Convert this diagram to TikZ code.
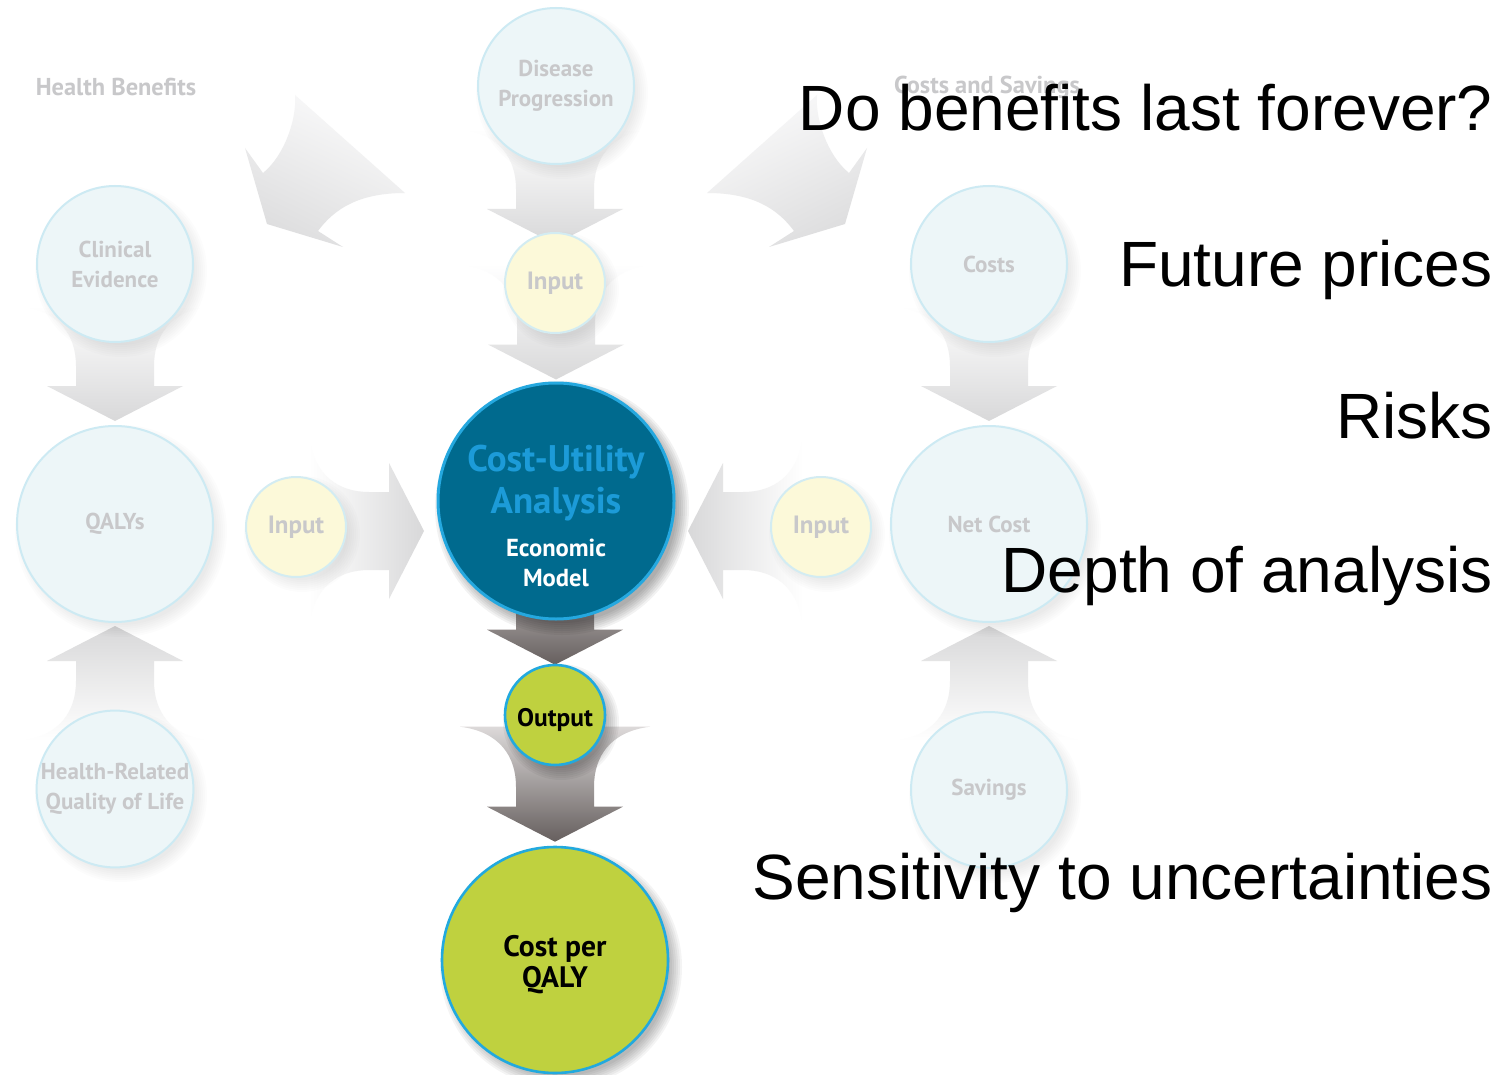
\documentclass[tikz,border=0pt]{standalone}
\usepackage{fontspec}
\newfontfamily\labfont{PT Sans}
\newfontfamily\arialfont{Liberation Sans}
\usetikzlibrary{calc,shadings}
\definecolor{fadefill}{HTML}{EDF6F8}
\definecolor{fadeline}{HTML}{CDEAF3}
\definecolor{fadetext}{HTML}{C8C8CA}
\definecolor{infill}{HTML}{FCF9D9}
\definecolor{inline}{HTML}{D3ECF2}
\definecolor{cuafill}{HTML}{006A8E}
\definecolor{cualine}{HTML}{25A8DF}
\definecolor{cuatitle}{HTML}{1C9BD8}
\definecolor{greenfill}{HTML}{BFD13F}
\definecolor{greenline}{HTML}{22A9DE}
\definecolor{agA}{HTML}{D8D8D9}
\definecolor{agB}{HTML}{E6E6E7}
\definecolor{agC}{HTML}{F3F3F4}
\definecolor{dkA}{HTML}{665F5E}
\definecolor{dkB}{HTML}{9E9998}
\definecolor{dkC}{HTML}{DCD9D9}
\pgfdeclarelayer{bg}
\pgfdeclarelayer{arrows}
\pgfdeclarelayer{shadowlayer}
\pgfsetlayers{bg,arrows,shadowlayer,main}
% fat arrow: tip at #1, rotation #2, shading options #3
\newcommand{\fatarrow}[3]{%
  \path[shift={(#1)}, rotate=#2, #3]
    (0,0) -- (68,-35) -- (39,-35) -- (39,-55)
    .. controls (39,-85) and (55,-110) .. (95,-115)
    -- (-95,-115) .. controls (-55,-110) and (-39,-85) .. (-39,-55)
    -- (-39,-35) -- (-68,-35) -- cycle;}
% soft shadow under circle node #1 of radius #2 (px), layer opacity #3
\newcommand{\softshadow}[3]{%
  \foreach \k in {0,...,6}{%
    \fill[black, opacity=#3] ($(#1.center)+(6,7)$) circle[radius={#2+8-2*\k}];}}
\tikzset{
  fadecirc/.style={circle, inner sep=0pt, fill=fadefill, draw=fadeline, line width=1pt,
    font=\labfont\bfseries\fontsize{11.5}{15}\selectfont, text=fadetext, align=center},
  incirc/.style={circle, inner sep=0pt, minimum size=50pt, fill=infill, draw=inline, line width=1pt,
    font=\labfont\bfseries\fontsize{12.5}{15}\selectfont, text=fadetext},
  cuacirc/.style={circle, inner sep=0pt, minimum size=118pt, fill=cuafill, draw=cualine, line width=1.5pt},
  greencirc/.style={circle, inner sep=0pt, fill=greenfill, draw=greenline, line width=1.3pt},
  greentxt/.style={inner sep=0pt, text=black, align=center},
  hdr/.style={font=\labfont\bfseries\fontsize{12.2}{14}\selectfont, text=fadetext, inner sep=0pt},
  bigtxt/.style={font=\arialfont\fontsize{32}{38}\selectfont, anchor=base east, inner sep=0pt, text=black},
  downshade/.style={top color=white, middle color=agB, bottom color=agA},
  upshade/.style={top color=agA, middle color=agB, bottom color=white},
  rightshade/.style={left color=white, middle color=agB, right color=agA},
  leftshade/.style={left color=agA, middle color=agB, right color=white},
  darkshade/.style={top color=dkC, middle color=dkB, bottom color=dkA}
}
\begin{document}
\begin{tikzpicture}[x=0.5pt,y=-0.5pt]
\useasboundingbox (0,0) rectangle (1510,1075);
\begin{pgfonlayer}{bg}
  \fill[white] (0,0) rectangle (1510,1075);
\end{pgfonlayer}

% ---------- nodes ----------
\node[fadecirc, minimum size=78pt] (clin) at (115,264) {Clinical\\Evidence};
\node[fadecirc, minimum size=98pt] (qaly) at (115,524) {QALYs};
\node[fadecirc, minimum size=78pt] (hrql) at (115,789) {Health-Related\\Quality of Life};
\node[incirc] (inL) at (296,527) {Input};
\node[fadecirc, minimum size=78pt] (dis) at (556,86) {Disease\\Progression};
\node[incirc] (inT) at (555,283) {Input};
\node[cuacirc] (cua) at (556,501) {};
\node[greencirc, minimum size=50pt] (out) at (555,715) {};
\node[greencirc, minimum size=113pt] (cq) at (555,960) {};
\node[incirc] (inR) at (821,527) {Input};
\node[fadecirc, minimum size=78pt] (cost) at (989,264) {Costs};
\node[fadecirc, minimum size=98pt] (net) at (989,524) {Net Cost};
\node[fadecirc, minimum size=78pt] (sav) at (989,790) {Savings};

\node[font=\labfont\bfseries\fontsize{18.5}{21}\selectfont, text=cuatitle, align=center, inner sep=0pt]
  (cuaT) at ($(cua.center)+(0,-18)$) {Cost-Utility\\Analysis};
\node[font=\labfont\bfseries\fontsize{12.3}{15}\selectfont, text=white, align=center, inner sep=0pt]
  (cuaS) at ($(cua.center)+(0,62)$) {Economic\\Model};
\node[greentxt, font=\labfont\bfseries\fontsize{12.7}{14}\selectfont] (outT) at ($(out.center)+(0,5)$) {Output};
\node[greentxt, font=\labfont\bfseries\fontsize{14.8}{15.5}\selectfont] (cqT) at ($(cq.center)+(0,5)$) {Cost per\\QALY};

\node[hdr] (hb) at (116,87) {Health Benefits};
\node[hdr] (cs) at (987,87) {Costs and Savings};

% ---------- shadows ----------
\begin{pgfonlayer}{shadowlayer}
  \softshadow{clin}{78}{0.012}
  \softshadow{qaly}{98}{0.012}
  \softshadow{hrql}{78}{0.012}
  \softshadow{dis}{78}{0.012}
  \softshadow{cost}{78}{0.012}
  \softshadow{net}{98}{0.012}
  \softshadow{sav}{78}{0.012}
  \softshadow{inL}{50}{0.012}
  \softshadow{inT}{50}{0.012}
  \softshadow{inR}{50}{0.012}
  \softshadow{cua}{119}{0.05}
  \softshadow{out}{50}{0.045}
  \softshadow{cq}{113}{0.045}
\end{pgfonlayer}

% ---------- arrows ----------
\begin{pgfonlayer}{arrows}
  \fatarrow{$(qaly.north)+(0,-4)$}{0}{downshade}
  \fatarrow{$(qaly.south)+(0,3)$}{180}{upshade}
  \fatarrow{$(inT.north)+(0,12)$}{0}{downshade}
  \fatarrow{$(cua.north)+(0,-2)$}{0}{downshade}
  \fatarrow{$(inL.east)+(77,4)$}{90}{rightshade}
  \fatarrow{$(inR.west)+(-82,4)$}{-90}{leftshade}
  \fatarrow{$(net.north)+(0,-4)$}{0}{downshade}
  \fatarrow{$(net.south)+(0,3)$}{180}{upshade}
  \fatarrow{$(out.north)+(0,1)$}{0}{darkshade}
  \fatarrow{$(cq.north)+(0,-4)$}{0}{darkshade}
  % curved arrows from the headings
  \path[lower left=agA, upper right=white, upper left=agC, lower right=agB]
    (245,148) -- (267,224) -- (343,247) -- (318,231)
    .. controls (335,208) and (360,193) .. (405,193)
    -- (295,95) .. controls (297,118) and (285,155) .. (263,173) -- cycle;
  \path[lower right=agA, upper left=white, upper right=agC, lower left=agB]
    (867,148) -- (845,224) -- (769,247) -- (794,231)
    .. controls (777,208) and (752,193) .. (707,193)
    -- (817,95) .. controls (815,118) and (827,155) .. (849,173) -- cycle;
\end{pgfonlayer}

% ---------- questions ----------
\node[bigtxt] (t1) at (1493,131) {Do benefits last forever?};
\node[bigtxt] (t2) at (1493,286) {Future prices};
\node[bigtxt] (t3) at (1493,438) {Risks};
\node[bigtxt] (t4) at (1493,592) {Depth of analysis};
\node[bigtxt] (t5) at (1493,899) {Sensitivity to uncertainties};
\end{tikzpicture}
\end{document}
